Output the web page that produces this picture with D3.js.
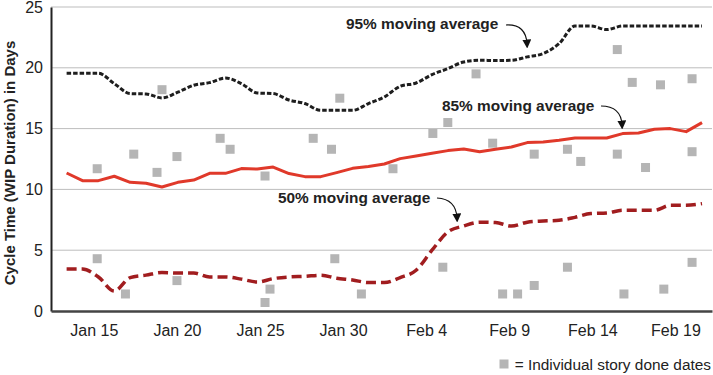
<!DOCTYPE html>
<html lang="en">
<head>
	<meta charset="UTF-8">
	<title>cycle time</title>
	<style>
		body { margin: 0; background: #fff; }
		text { font-family: "Liberation Sans", Arial, sans-serif; fill: #222; }
	</style>
</head>
<body>
	<svg id="cont" width="713" height="375">
		<g id="grid"></g>
		<g id="yaxis"></g>
		<g id="xaxis"></g>
		<g id="body"></g>
		<g id="notes"></g>
	</svg>
<script src="https://cdn.jsdelivr.net/npm/d3@7"></script>
<script>
	// days counted from Jan 15
	let tickDays = [0, 5, 10, 15, 20, 25, 30, 35]
	let tickLabels = ["Jan 15", "Jan 20", "Jan 25", "Jan 30", "Feb 4", "Feb 9", "Feb 14", "Feb 19"]
	let yTicks = [0, 5, 10, 15, 20, 25]

	// moving averages, evenly sampled between lineStart and lineEnd
	let lineStart = -1.64
	let lineEnd = 36.6
	let p95 = [19.55, 19.55, 19.55, 18.7, 17.88, 17.85, 17.52, 18.0, 18.56, 18.78,
		19.16, 18.7, 17.93, 17.88, 17.35, 17.06, 16.5, 16.5, 16.5, 17.06,
		17.6, 18.48, 18.75, 19.44, 19.93, 20.48, 20.62, 20.6, 20.62, 20.9,
		21.17, 21.99, 23.44, 23.44, 23.14, 23.44, 23.44, 23.44, 23.44, 23.44, 23.44]
	let p85 = [11.35, 10.72, 10.72, 11.08, 10.58, 10.5, 10.2, 10.58, 10.77, 11.32,
		11.32, 11.71, 11.68, 11.84, 11.3, 11.05, 11.05, 11.38, 11.73, 11.88,
		12.09, 12.53, 12.75, 12.97, 13.19, 13.32, 13.1, 13.3, 13.49, 13.85,
		13.9, 14.04, 14.23, 14.23, 14.23, 14.59, 14.64, 14.94, 15.0, 14.75, 15.49]
	let p50 = [3.45, 3.45, 2.8, 1.64, 2.75, 2.95, 3.16, 3.12, 3.12, 2.8,
		2.8, 2.62, 2.38, 2.66, 2.8, 2.85, 2.94, 2.7, 2.55, 2.34,
		2.34, 2.75, 3.35, 5.0, 6.5, 7.0, 7.3, 7.27, 6.99, 7.3,
		7.4, 7.46, 7.7, 8.01, 8.06, 8.28, 8.28, 8.28, 8.69, 8.7, 8.83]

	// individual stories
	let storyDays = [0.2, 0.2, 1.9, 2.4, 3.8, 4.1, 5.0, 5.0, 7.6, 8.2,
		10.3, 10.3, 10.6, 13.2, 14.3, 14.5, 14.8, 16.1, 18.0, 20.4,
		21.0, 21.3, 23.0, 24.0, 24.6, 25.5, 26.5, 26.5, 28.5, 28.5,
		29.3, 31.5, 31.5, 31.9, 32.4, 33.2, 34.1, 34.3, 36.0, 36.0, 36.0]
	let storyCycle = [11.7, 4.3, 1.4, 12.9, 11.4, 18.2, 12.7, 2.5, 14.2, 13.3,
		11.1, 0.7, 1.8, 14.2, 13.3, 4.3, 17.5, 1.4, 11.7, 14.6,
		3.6, 15.5, 19.5, 13.8, 1.4, 1.4, 12.9, 2.1, 13.3, 3.6,
		12.3, 21.5, 12.9, 1.4, 18.8, 11.8, 18.6, 1.8, 19.1, 13.1, 4.0]

	let svg = d3.select("#cont")
	let plotLeft = 51, plotRight = 712, plotTop = 7, plotBottom = 311

	let x = d3.scaleLinear().domain([-2.58, 37.2]).range([plotLeft, plotRight])
	let y = d3.scaleLinear().domain([0, 25]).range([plotBottom, plotTop])
	let xLine = d3.scalePoint()
		.domain(d3.range(p95.length))
		.range([x(lineStart), x(lineEnd)])

	// gridlines
	d3.select("#grid").selectAll("line")
		.data(yTicks.filter(d => d > 0))
		.join("line")
		.attr("x1", plotLeft).attr("x2", plotRight)
		.attr("y1", d => y(d)).attr("y2", d => y(d))
		.attr("stroke", "#bdbdbd").attr("stroke-width", 1)

	let yaxis = d3.axisLeft(y).tickValues(yTicks).tickSize(0).tickPadding(8)
	d3.select("#yaxis")
		.attr("transform", `translate(${plotLeft},0)`)
		.call(yaxis)
		.call(g => g.select(".domain").attr("stroke", "#222").attr("stroke-width", 2))
		.call(g => g.selectAll("text").attr("font-size", "16px").attr("font-family", "Liberation Sans, Arial").attr("fill", "#222"))

	let xaxis = d3.axisBottom(x).tickValues(tickDays).tickSize(0).tickPadding(14)
		.tickFormat((d, i) => tickLabels[i])
	d3.select("#xaxis")
		.attr("transform", `translate(0,${plotBottom})`)
		.call(xaxis)
		.call(g => g.select(".domain").attr("stroke", "#444").attr("stroke-width", 2.5))
		.call(g => g.selectAll("text").attr("font-size", "16px").attr("font-family", "Liberation Sans, Arial").attr("fill", "#222"))

	svg.append("text")
		.attr("transform", `translate(14.5,${(plotTop + plotBottom) / 2 + 4}) rotate(-90)`)
		.attr("text-anchor", "middle")
		.attr("font-weight", "bold")
		.attr("font-size", "15px")
		.text("Cycle Time (WIP Duration) in Days")

	let container = d3.select("#body")

	container.selectAll("rect.story")
		.data(storyDays)
		.join("rect")
		.attr("class", "story")
		.attr("x", d => x(d) - 4.5)
		.attr("y", (d, i) => y(storyCycle[i]) - 4.5)
		.attr("width", 9).attr("height", 9)
		.attr("fill", "#b5b5b5")

	let line = d3.line().x((d, i) => xLine(i)).y(d => y(d))

	container.append("path").datum(p50)
		.attr("d", line.curve(d3.curveMonotoneX))
		.attr("fill", "none").attr("stroke", "#a11d1f")
		.attr("stroke-width", 3.5).attr("stroke-dasharray", "10,5")

	container.append("path").datum(p85)
		.attr("d", line.curve(d3.curveLinear))
		.attr("fill", "none").attr("stroke", "#e0392a")
		.attr("stroke-width", 3).attr("stroke-linejoin", "round")

	container.append("path").datum(p95)
		.attr("d", line.curve(d3.curveMonotoneX))
		.attr("fill", "none").attr("stroke", "#1e1e1e")
		.attr("stroke-width", 3).attr("stroke-dasharray", "4.5,2")

	// annotations
	let notes = d3.select("#notes")
	svg.append("defs").append("marker")
		.attr("id", "head").attr("viewBox", "0 0 10 10")
		.attr("refX", 5).attr("refY", 5)
		.attr("markerWidth", 9).attr("markerHeight", 9)
		.attr("markerUnits", "userSpaceOnUse")
		.attr("orient", "auto")
		.append("path").attr("d", "M0,0 L10,5 L0,10 Z").attr("fill", "#111")

	let labels = [
		{ t: "95% moving average", x: 346, y: 29, a: "M506,25 Q526,24 527,44" },
		{ t: "85% moving average", x: 442, y: 111, a: "M601,106 Q621,106 622,125" },
		{ t: "50% moving average", x: 278, y: 203, a: "M437,198 Q456,199 457,218" }
	]
	labels.forEach(l => {
		notes.append("text")
			.attr("x", l.x).attr("y", l.y)
			.attr("font-weight", "bold").attr("font-size", "15.4px")
			.text(l.t)
		notes.append("path")
			.attr("d", l.a)
			.attr("fill", "none").attr("stroke", "#111").attr("stroke-width", 1.2)
			.attr("marker-end", "url(#head)")
	})

	// legend
	notes.append("rect")
		.attr("x", 499.5).attr("y", 359.5).attr("width", 9).attr("height", 9)
		.attr("fill", "#b5b5b5")
	notes.append("text")
		.attr("x", 711).attr("y", 369.5)
		.attr("text-anchor", "end").attr("font-size", "15.4px")
		.text("= Individual story done dates")
</script>
</body>
</html>
